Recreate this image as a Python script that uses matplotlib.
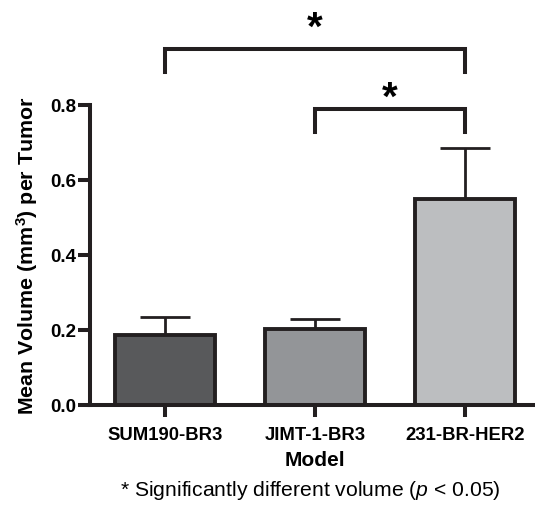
import numpy as np
import matplotlib.pyplot as plt

plt.rcParams['font.family'] = ['Liberation Sans', 'DejaVu Sans']
plt.rcParams['mathtext.fontset'] = 'custom'
plt.rcParams['mathtext.rm'] = 'Liberation Sans'
plt.rcParams['mathtext.it'] = 'Liberation Sans:italic'
plt.rcParams['mathtext.bf'] = 'Liberation Sans:bold'

models = ['SUM190-BR3', 'JIMT-1-BR3', '231-BR-HER2']
means = [0.185, 0.203, 0.548]
errs = [0.050, 0.027, 0.136]
colors = ['#58595b', '#939598', '#bcbec0']
edge = '#231f20'

fig = plt.figure(figsize=(5.35, 5.06), dpi=100)
# axes runs past the right edge of the figure (cropped like the original)
ax = fig.add_axes([0.168, 0.198, 0.841, 0.593])

x = np.arange(len(models))
ax.bar(x, means, width=0.67, color=colors, edgecolor=edge, linewidth=2.8, zorder=2)
ax.errorbar(x, means, yerr=[np.zeros(3), errs], fmt='none', ecolor=edge,
            elinewidth=2.0, capsize=18, capthick=2.0, zorder=1)

ax.set_xlim(-0.5, 2.5)
ax.set_ylim(0, 0.8)
ax.set_yticks([0.0, 0.2, 0.4, 0.6, 0.8])
ax.set_yticklabels(['0.0', '0.2', '0.4', '0.6', '0.8'], fontweight='bold', fontsize=13.5)
ax.set_xticks(x)
ax.set_xticklabels(models, fontweight='bold', fontsize=13.3)
for s in ['top', 'right']:
    ax.spines[s].set_visible(False)
for s in ['left', 'bottom']:
    ax.spines[s].set_linewidth(2.9)
    ax.spines[s].set_color(edge)
ax.tick_params(axis='y', width=2.9, length=9, color=edge, pad=1)
ax.tick_params(axis='x', width=2.9, length=8.5, color=edge, pad=6.5)

ax.set_ylabel('Mean Volume (mm$^\\mathbf{3}$) per Tumor', fontweight='bold', fontsize=15.4, labelpad=7)
ax.set_xlabel('Model', fontweight='bold', fontsize=15, labelpad=5)

# significance brackets
def bracket(x1, x2, ytop, ybot, ystar):
    ax.plot([x1, x1, x2, x2], [ybot, ytop, ytop, ybot], color=edge, lw=2.9,
            clip_on=False, solid_joinstyle='miter')
    ax.text((x1 + x2) / 2, ystar, '*', ha='center', va='center', fontsize=29,
            fontweight='bold', clip_on=False)

bracket(0, 2, 0.949, 0.888, 1.005)
bracket(1, 2, 0.789, 0.728, 0.819)

fig.text(0.224, 0.030, '* Significantly different volume ($\\it{p}$ < 0.05)',
         ha='left', va='center', fontsize=15.2)

fig.savefig('out.png', dpi=100)
